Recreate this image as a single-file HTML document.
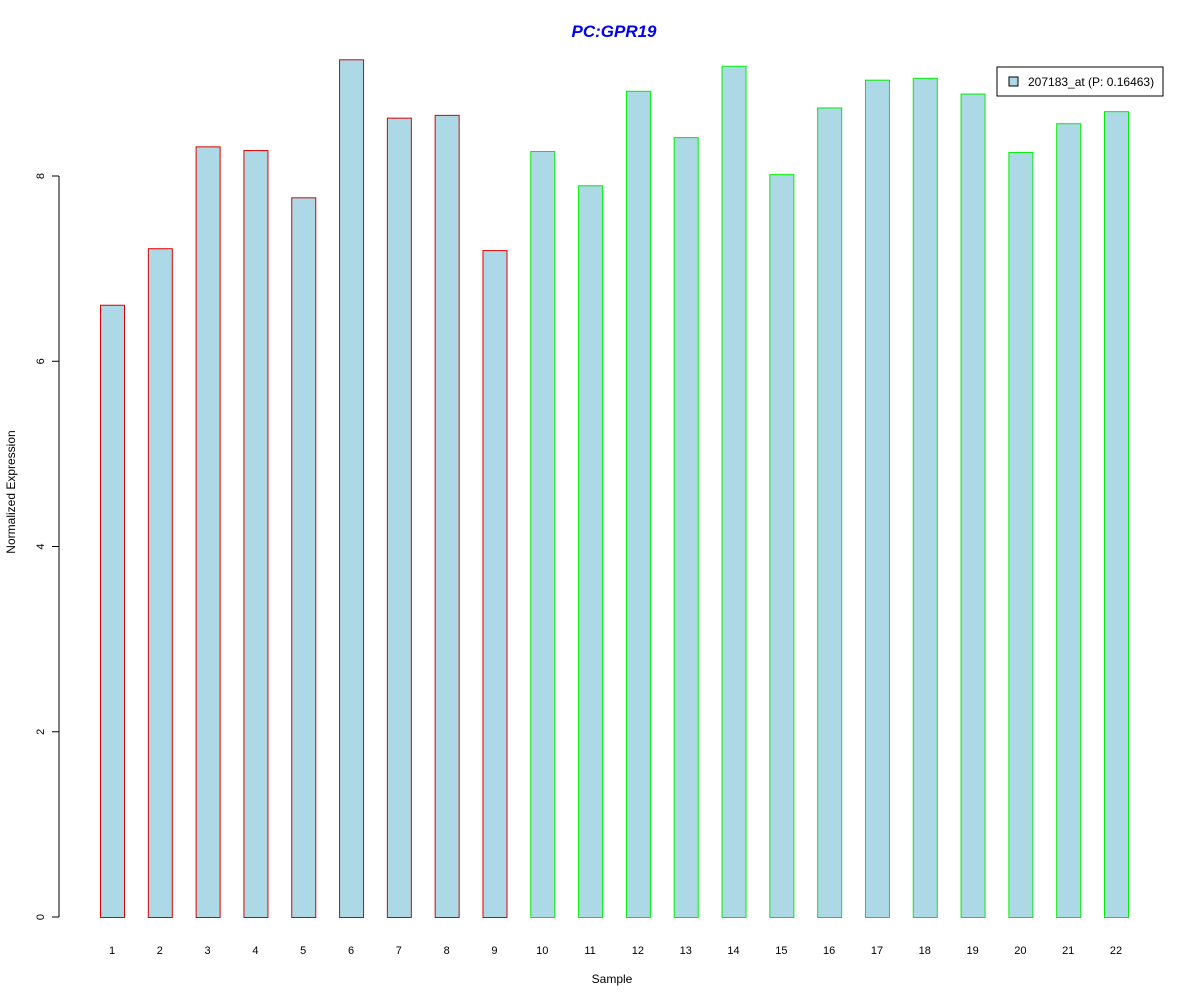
<!DOCTYPE html>
<html><head><meta charset="utf-8"><style>
body{margin:0;background:#fff;}
svg text{font-family:"Liberation Sans",Arial,sans-serif;}
</style></head><body>
<svg id="chart" width="1200" height="1000" xmlns="http://www.w3.org/2000/svg">
<text x="614" y="37" text-anchor="middle" font-size="17" font-weight="bold" font-style="italic" fill="#0000ee">PC:GPR19</text>
<text x="612" y="983" text-anchor="middle" font-size="12">Sample</text>
<text transform="translate(15,492) rotate(-90)" text-anchor="middle" font-size="12">Normalized Expression</text>
<g id="yaxis"></g>
<g id="bars"></g>
<g id="xlabels"></g>
<g>
<rect x="997" y="67" width="166" height="29" fill="#fff" stroke="#000"/>
<rect x="1009" y="77" width="9" height="9" fill="#add8e6" stroke="#000"/>
<text x="1028" y="86" font-size="12">207183_at (P: 0.16463)</text>
</g>
</svg>
<script>
const categories=["1","2","3","4","5","6","7","8","9","10","11","12","13","14","15","16","17","18","19","20","21","22"];
const values=[6.61,7.22,8.32,8.28,7.77,9.26,8.63,8.66,7.20,8.27,7.90,8.92,8.42,9.19,8.02,8.74,9.04,9.06,8.89,8.26,8.57,8.70];
const groups=["a","a","a","a","a","a","a","a","a","b","b","b","b","b","b","b","b","b","b","b","b","b"];
const yTicks=[0,2,4,6,8];
const NS="http://www.w3.org/2000/svg";
const y=v=>917-v*92.625;
const xc=i=>112+i*47.81;
const bw=24;
const yaxis=document.getElementById('yaxis');
let l=document.createElementNS(NS,'line');
l.setAttribute('x1',59);l.setAttribute('x2',59);l.setAttribute('y1',y(0));l.setAttribute('y2',y(8));l.setAttribute('stroke','#000');


yaxis.appendChild(l);
yTicks.forEach(t=>{
 const tk=document.createElementNS(NS,'line');
 tk.setAttribute('x1',52);tk.setAttribute('x2',59);tk.setAttribute('y1',y(t));tk.setAttribute('y2',y(t));tk.setAttribute('stroke','#000');
 
 
 yaxis.appendChild(tk);
 const tx=document.createElementNS(NS,'text');
 tx.setAttribute('transform',`translate(44,${y(t)}) rotate(-90)`);tx.setAttribute('text-anchor','middle');tx.setAttribute('font-size','11');
 tx.textContent=t;
 
 
 yaxis.appendChild(tx);
});
const bars=document.getElementById('bars'),xl=document.getElementById('xlabels');
values.forEach((v,i)=>{
 const r=document.createElementNS(NS,'rect');
 r.setAttribute('x',xc(i)-bw/2+0.5);r.setAttribute('y',y(v)+0.5);r.setAttribute('width',bw);r.setAttribute('height',y(0)-y(v));
 r.setAttribute('fill','#add8e6');r.setAttribute('stroke',groups[i]==='a'?'#dd0000':'#00ee00');
 
 
 bars.appendChild(r);
 const t=document.createElementNS(NS,'text');
 t.setAttribute('x',xc(i));t.setAttribute('y',954);t.setAttribute('text-anchor','middle');t.setAttribute('font-size','11');
 t.textContent=categories[i];
 
 
 xl.appendChild(t);
});
</script>
</body></html>
